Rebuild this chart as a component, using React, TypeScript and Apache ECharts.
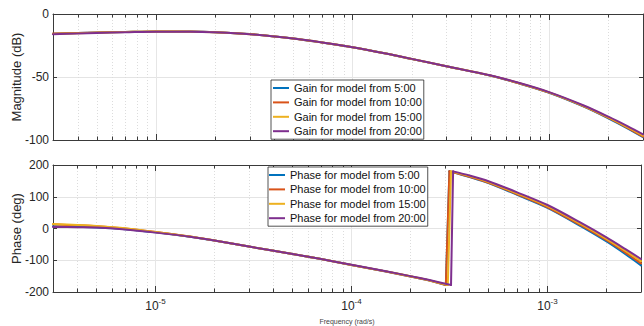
import React, { useEffect, useRef } from 'react';
import * as echarts from 'echarts';

const models = ['5:00', '10:00', '15:00', '20:00'];
const colors = ['#0072BD', '#D95319', '#EDB120', '#7E2F8E'];

const magFreq = [3e-6, 4e-6, 5e-6, 7e-6, 1e-5, 1.5e-5, 2e-5, 3e-5, 5e-5, 7e-5, 1e-4, 1.5e-4, 2e-4, 3e-4, 5e-4, 7e-4, 1e-3, 1.5e-3, 2e-3, 2.5e-3, 3e-3];
const mag5 = [-15.6, -15.1, -14.7, -14.2, -13.8, -13.9, -14.4, -15.9, -19.4, -22.6, -26.4, -31.6, -35.7, -41.5, -48.8, -55, -62.5, -73.5, -82.8, -90.8, -97.8];
const mag10 = [-15.5, -15, -14.6, -14.2, -13.8, -13.9, -14.4, -15.9, -19.4, -22.6, -26.4, -31.6, -35.7, -41.5, -48.8, -54.9, -62.4, -73.3, -82.5, -90.4, -97.4];
const mag15 = [-15.8, -15.3, -14.8, -14.3, -13.9, -14, -14.5, -16, -19.5, -22.6, -26.4, -31.6, -35.6, -41.4, -48.7, -54.7, -62.2, -73, -82, -89.8, -96.5];
const mag20 = [-16, -15.5, -15, -14.5, -14, -14, -14.5, -16, -19.5, -22.6, -26.4, -31.6, -35.6, -41.4, -48.6, -54.6, -62, -72.6, -81.5, -89, -95.5];

const phaseFreqLow = [3e-6, 4e-6, 5e-6, 7e-6, 1e-5, 1.5e-5, 2e-5, 3e-5, 5e-5, 7e-5, 1e-4, 1.5e-4, 2e-4, 2.5e-4];
const phaseFreqHigh = [4e-4, 5e-4, 7e-4, 1e-3, 1.5e-3, 2e-3, 2.5e-3, 3e-3];
const phaseLow5 = [7, 5, 3.5, -2, -12, -26, -38, -57, -80, -96, -115, -135.5, -151, -164];
const phaseLow10 = [13, 10, 7, 0, -11, -25, -38, -57, -80, -96, -115, -135.5, -151, -164];
const phaseLow15 = [14, 11, 8, 1, -11, -25, -38, -57, -80, -96, -115, -135, -150.5, -163.5];
const phaseLow20 = [5, 4, 3, -3, -13, -26, -38, -57, -80, -96, -114.5, -134.5, -150, -162.5];
const jumpFreq5 = [3.03e-4, 3.16e-4];
const jumpFreq10 = [3.03e-4, 3.16e-4];
const jumpFreq15 = [3.1e-4, 3.22e-4];
const jumpFreq20 = [3.22e-4, 3.3e-4];
const jumpPhase = [-178, 180];
const phaseHigh5 = [162, 143, 106, 65, 5, -41, -81, -116];
const phaseHigh10 = [163, 144, 108, 67, 8, -37, -76, -110];
const phaseHigh15 = [165, 146.5, 111, 70.5, 12, -32.5, -70.5, -103];
const phaseHigh20 = [167, 149, 114, 74, 16, -28, -65, -96];

const minorTicks = [4e-6, 5e-6, 6e-6, 7e-6, 8e-6, 9e-6, 2e-5, 3e-5, 4e-5, 5e-5, 6e-5, 7e-5, 8e-5, 9e-5, 2e-4, 3e-4, 4e-4, 5e-4, 6e-4, 7e-4, 8e-4, 9e-4, 2e-3];

const xMin = 3e-6;
const xMax = 3e-3;
const magRange = [-100, 0];
const phaseRange = [-200, 200];

const mags = [mag5, mag10, mag15, mag20];
const phaseLows = [phaseLow5, phaseLow10, phaseLow15, phaseLow20];
const phaseHighs = [phaseHigh5, phaseHigh10, phaseHigh15, phaseHigh20];
const jumpFreqs = [jumpFreq5, jumpFreq10, jumpFreq15, jumpFreq20];

const FONT = '"Liberation Sans", Arial, Helvetica, sans-serif';
const AX = '#262626';
const LINE = '#3a3a3a';

function decadeLabel(v: number) {
  const l = Math.log10(v);
  const e = Math.round(l);
  if (Math.abs(l - e) > 1e-6) return '';
  return `{b|10}{s|${e}}`;
}

function xAxes(gridIndex: number, withLabels: boolean) {
  const base: any = {
    gridIndex,
    type: 'log',
    logBase: 10,
    min: xMin,
    max: xMax,
    axisLine: { show: true, onZero: false, lineStyle: { color: LINE, width: 1 } },
    axisTick: { show: true, inside: true, length: 6, lineStyle: { color: LINE, width: 1 } },
    minorTick: { show: false },
  };
  return [
    {
      ...base,
      position: 'bottom',
      splitLine: { show: true, lineStyle: { color: '#e6e6e6', width: 1 } },
      axisLabel: withLabels
        ? {
            show: true,
            margin: 5,
            formatter: decadeLabel,
            fontFamily: FONT,
            color: AX,
            rich: {
              b: { fontSize: 12, lineHeight: 15, verticalAlign: 'bottom', fontFamily: FONT, color: AX },
              s: { fontSize: 8, lineHeight: 8, verticalAlign: 'top', fontFamily: FONT, color: AX },
            },
          }
        : { show: false },
      name: withLabels ? 'Frequency (rad/s)' : '',
      nameLocation: 'middle',
      nameGap: 26,
      nameMoveOverlap: false,
      nameTextStyle: { fontSize: 7, fontFamily: FONT, color: '#444' },
    },
    {
      ...base,
      position: 'top',
      splitLine: { show: false },
      axisLabel: { show: false },
    },
  ];
}

function yAxes(gridIndex: number, range: number[], interval: number, name: string) {
  const base: any = {
    gridIndex,
    type: 'value',
    min: range[0],
    max: range[1],
    interval,
    axisLine: { show: true, onZero: false, lineStyle: { color: LINE, width: 1 } },
    axisTick: { show: true, inside: true, length: 4, lineStyle: { color: LINE, width: 1 } },
  };
  return [
    {
      ...base,
      position: 'left',
      splitLine: { show: true, lineStyle: { color: '#e4e4e4', width: 1 } },
      axisLabel: { show: true, margin: 4, fontSize: 12, fontFamily: FONT, color: AX },
      name,
      nameLocation: 'middle',
      nameGap: 30,
      nameMoveOverlap: false,
      nameTextStyle: { fontSize: 13, fontFamily: FONT, color: AX },
    },
    {
      ...base,
      position: 'right',
      splitLine: { show: false },
      axisLabel: { show: false },
    },
  ];
}

function minorSeries(xAxisIndex: number, yAxisIndex: number, yMin: number) {
  return {
    type: 'custom',
    name: 'minor',
    xAxisIndex,
    yAxisIndex,
    silent: true,
    z: 1,
    clip: false,
    data: minorTicks.map((f) => [f, yMin]),
    renderItem: (params: any, api: any) => {
      const x = Math.round(api.coord([api.value(0), api.value(1)])[0]) + 0.5;
      const cs = params.coordSys;
      return {
        type: 'group',
        children: [
          { type: 'line', shape: { x1: x, y1: cs.y, x2: x, y2: cs.y + cs.height }, style: { stroke: '#dcdcdc', lineWidth: 1, lineDash: [1, 2] } },
          { type: 'line', shape: { x1: x, y1: cs.y, x2: x, y2: cs.y + 3.5 }, style: { stroke: LINE, lineWidth: 1 } },
          { type: 'line', shape: { x1: x, y1: cs.y + cs.height - 3.5, x2: x, y2: cs.y + cs.height }, style: { stroke: LINE, lineWidth: 1 } },
        ],
      };
    },
  };
}

const gainNames = models.map((m) => `Gain for model from ${m}`);
const phaseNames = models.map((m) => `Phase for model from ${m}`);

function legend(data: string[], left: number, top: number, padLeft: number) {
  return {
    data,
    orient: 'vertical',
    left,
    top,
    icon: 'rect',
    itemWidth: 16,
    itemHeight: 2,
    itemGap: 2.4,
    padding: [2, 2, 2, padLeft],
    backgroundColor: '#ffffff',
    borderColor: AX,
    borderWidth: 0.8,
    borderRadius: 0,
    textStyle: { fontSize: 11, lineHeight: 12, fontFamily: FONT, color: '#111' },
    selectedMode: false,
  };
}

function lineSeries(name: string, k: number, axis: number, data: number[][], smooth: number | boolean) {
  return {
    type: 'line',
    name,
    xAxisIndex: axis,
    yAxisIndex: axis,
    showSymbol: false,
    symbol: 'none',
    color: colors[k],
    lineStyle: { width: 2, color: colors[k], join: 'round', cap: 'round' },
    smooth,
    z: 3,
    data,
  };
}

export default function App() {
  const ref = useRef<HTMLDivElement>(null);
  useEffect(() => {
    if (!ref.current) return;
    const chart = echarts.init(ref.current, undefined, { renderer: 'svg' });
    const series: any[] = [minorSeries(0, 0, magRange[0]), minorSeries(2, 2, phaseRange[0])];
    models.forEach((_, k) => {
      series.push(lineSeries(gainNames[k], k, 0, magFreq.map((f, i) => [f, mags[k][i]]), 0.3));
    });
    models.forEach((_, k) => {
      const bottom = [jumpFreqs[k][0], jumpPhase[0]];
      const top = [jumpFreqs[k][1], jumpPhase[1]];
      const pre = [...phaseFreqLow.map((f, i) => [f, phaseLows[k][i]]), bottom];
      const post = [top, ...phaseFreqHigh.map((f, i) => [f, phaseHighs[k][i]])];
      series.push(lineSeries(phaseNames[k], k, 2, pre, 0.3));
      series.push(lineSeries(phaseNames[k], k, 2, [bottom, top], false));
      series.push(lineSeries(phaseNames[k], k, 2, post, 0.3));
    });
    chart.setOption({
      animation: false,
      backgroundColor: '#ffffff',
      textStyle: { fontFamily: FONT },
      grid: [
        { left: 53, right: 1, top: 14, height: 126 },
        { left: 53, right: 1, top: 165, height: 127 },
      ],
      xAxis: [...xAxes(0, false), ...xAxes(1, true)],
      yAxis: [...yAxes(0, magRange, 50, 'Magnitude (dB)'), ...yAxes(1, phaseRange, 100, 'Phase (deg)')],
      legend: [legend(gainNames, 271, 80, 2), legend(phaseNames, 268, 167, 1)],
      series,
    });
    return () => chart.dispose();
  }, []);
  return (
    <div
      ref={ref}
      style={{ position: 'fixed', left: 0, top: 0, width: 644, height: 326, background: '#fff' }}
    />
  );
}
